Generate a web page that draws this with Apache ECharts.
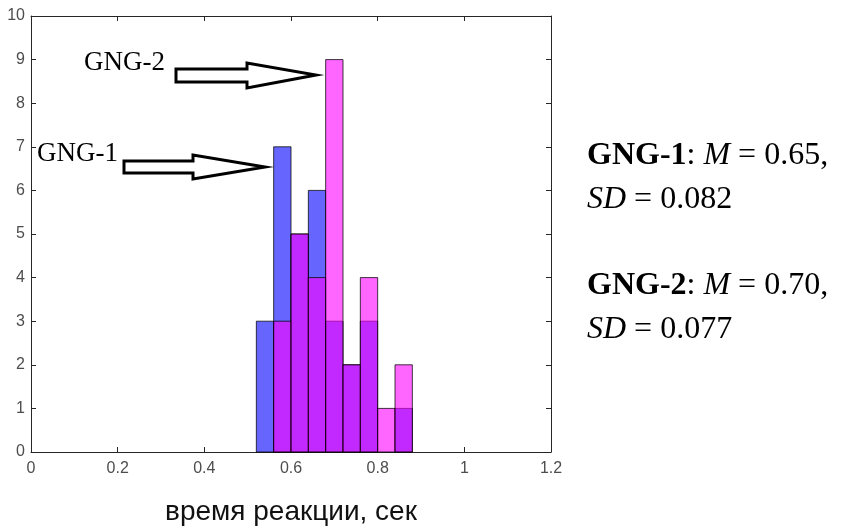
<!DOCTYPE html>
<html><head><meta charset="utf-8">
<script src="https://cdn.jsdelivr.net/npm/echarts@6/dist/echarts.min.js"></script>
<style>html,body{margin:0;padding:0;background:#fff}#c{width:843px;height:528px}</style>
</head><body><div id="c"></div>
<script>
// Histogram bins (left edges), width 0.04 s
const binLeft = [0.52, 0.56, 0.60, 0.64, 0.68, 0.72, 0.76, 0.80, 0.84];
const binWidth = 0.04;
const gng1 = [3, 7, 5, 6, 3, 2, 3, 0, 1];
const gng2 = [0, 3, 5, 4, 9, 2, 4, 1, 2];
const xTicks = [0, 0.2, 0.4, 0.6, 0.8, 1, 1.2];
const yTicks = [0, 1, 2, 3, 4, 5, 6, 7, 8, 9, 10];

const chart = echarts.init(document.getElementById('c'));

function histSeries(name, counts, color) {
  return {
    type: 'custom', name,
    data: binLeft.map((b, i) => [b, b + binWidth, counts[i]]),
    renderItem: (params, api) => {
      const v = api.value(2);
      if (!v) return null;
      const p0 = api.coord([api.value(0), v]);
      const p1 = api.coord([api.value(1), 0]);
      return {
        type: 'rect',
        shape: { x: p0[0], y: p0[1], width: p1[0] - p0[0], height: p1[1] - p0[1] },
        style: { fill: color, stroke: 'rgba(0,0,0,0.75)', lineWidth: 1 }
      };
    }
  };
}

const serif = '"Liberation Serif", "Times New Roman", serif';
const sans = '"Liberation Sans", Arial, sans-serif';
const axisColor = '#262626';
const tick = { show: true, inside: true, length: 5, lineStyle: { color: axisColor } };
const line = { show: true, onZero: false, lineStyle: { color: axisColor, width: 1 } };

chart.setOption({
  animation: false,
  grid: { left: 31, right: 292, top: 16, bottom: 76, containLabel: false, outerBoundsMode: 'none' },
  xAxis: [
    { type: 'value', min: 0, max: 1.2, interval: 0.2, position: 'bottom',
      axisLine: line, axisTick: tick,
      axisLabel: { color: '#4d4d4d', fontSize: 16, fontFamily: sans, margin: 9,
        formatter: v => xTicks.includes(+v.toFixed(1)) ? String(+v.toFixed(1)) : '' },
      splitLine: { show: false },
      name: 'время реакции, сек', nameLocation: 'middle', nameGap: 46,
      nameTextStyle: { color: '#111', fontSize: 28, fontFamily: sans } },
    { type: 'value', min: 0, max: 1.2, interval: 0.2, position: 'top',
      axisLine: line, axisTick: tick,
      axisLabel: { show: false }, splitLine: { show: false } }
  ],
  yAxis: [
    { type: 'value', min: 0, max: 10, interval: 1, position: 'left',
      axisLine: line, axisTick: tick,
      axisLabel: { color: '#4d4d4d', fontSize: 16, fontFamily: sans, margin: 6,
        formatter: v => yTicks.includes(v) ? String(v) : '' },
      splitLine: { show: false } },
    { type: 'value', min: 0, max: 10, interval: 1, position: 'right',
      axisLine: line, axisTick: tick,
      axisLabel: { show: false }, splitLine: { show: false } }
  ],
  series: [
    histSeries('GNG-1', gng1, 'rgba(0,0,255,0.6)'),
    histSeries('GNG-2', gng2, 'rgba(255,0,255,0.6)')
  ],
  graphic: [
    { type: 'text', left: 84, top: 49, z: 10,
      style: { text: 'GNG-2', font: '27px ' + serif, fill: '#000' } },
    { type: 'text', left: 37, top: 140, z: 10,
      style: { text: 'GNG-1', font: '27px ' + serif, fill: '#000' } },
    { type: 'polygon', z: 10,
      shape: { points: [[176,69],[247,69],[247,63],[316,75],[247,88],[247,82],[176,82]] },
      style: { fill: '#fff', stroke: '#000', lineWidth: 3, lineJoin: 'miter' } },
    { type: 'polygon', z: 10,
      shape: { points: [[124,161],[193,161],[193,155],[265,167],[193,179],[193,173],[124,173]] },
      style: { fill: '#fff', stroke: '#000', lineWidth: 3, lineJoin: 'miter' } },
    { type: 'text', left: 587, top: 140, z: 10,
      style: { text: '{b|GNG-1}{r|: }{i|M}{r| = 0.65,}\n{i|SD}{r| = 0.082}',
        rich: {
          b: { font: 'bold 32px ' + serif, fill: '#000', lineHeight: 44 },
          i: { font: 'italic 32px ' + serif, fill: '#000', lineHeight: 44 },
          r: { font: '32px ' + serif, fill: '#000', lineHeight: 44 }
        } } },
    { type: 'text', left: 587, top: 270, z: 10,
      style: { text: '{b|GNG-2}{r|: }{i|M}{r| = 0.70,}\n{i|SD}{r| = 0.077}',
        rich: {
          b: { font: 'bold 32px ' + serif, fill: '#000', lineHeight: 44 },
          i: { font: 'italic 32px ' + serif, fill: '#000', lineHeight: 44 },
          r: { font: '32px ' + serif, fill: '#000', lineHeight: 44 }
        } } }
  ]
});
</script></body></html>
